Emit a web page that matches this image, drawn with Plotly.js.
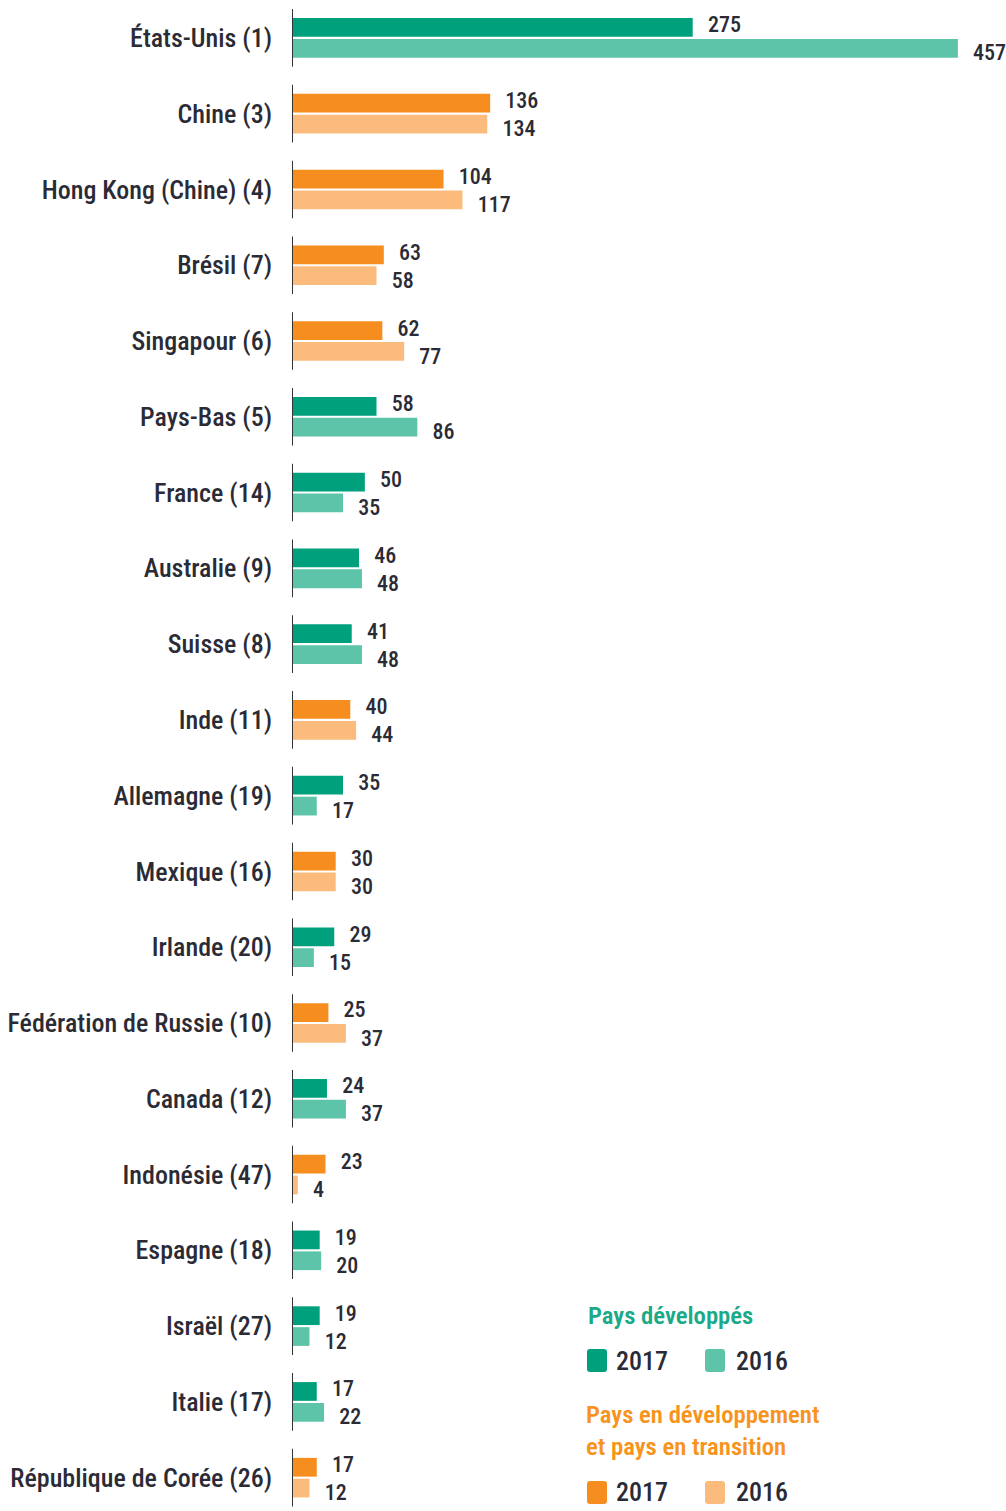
<!DOCTYPE html>
<html>
<head>
<meta charset="utf-8">
<script src="https://cdn.plot.ly/plotly-3.0.1.min.js"></script>
<style>html,body{margin:0;padding:0;background:#fff;}#chart{width:1006px;height:1511px;}
svg text{font-stretch:condensed !important;}
</style>
</head>
<body>
<div id="chart"></div>
<script>
const countries = ["États-Unis (1)","Chine (3)","Hong Kong (Chine) (4)","Brésil (7)","Singapour (6)","Pays-Bas (5)","France (14)","Australie (9)","Suisse (8)","Inde (11)","Allemagne (19)","Mexique (16)","Irlande (20)","Fédération de Russie (10)","Canada (12)","Indonésie (47)","Espagne (18)","Israël (27)","Italie (17)","République de Corée (26)"];
const developed = [true,false,false,false,false,true,true,true,true,false,true,false,true,false,true,false,true,true,true,false];
const v2017 = [275,136,104,63,62,58,50,46,41,40,35,30,29,25,24,23,19,19,17,17];
const v2016 = [457,134,117,58,77,86,35,48,48,44,17,30,15,37,37,4,20,12,22,12];
const legendDev = "Pays développés";
const legendDevg = "Pays en développement<br>et pays en transition";
const yearLabels = ["2017","2016"];

const C = {dev17:"#00a07c", dev16:"#5ec4a9", dvg17:"#f58d1f", dvg16:"#fbbb7c", gtitle:"#1aaa88", otitle:"#f7941d", text:"#2b2b36"};
const FONT = "Roboto, 'DejaVu Sans Condensed', sans-serif";

function barTrace(vals, name, cDev, cDvg){
  return {type:"bar", orientation:"h", y:countries, x:vals, name:name,
    marker:{color:developed.map(d=>d?cDev:cDvg)}, hoverinfo:"x+y"};
}
const pad = "\u00a0\u00a0\u00a0";
function labelTrace(vals, pos, yax){
  return {type:"scatter", mode:"text", y:countries, x:vals, yaxis:yax, text:vals.map(v=>pad+v),
    textposition:pos, cliponaxis:false, hoverinfo:"skip",
    textfont:{family:FONT, size:22, color:C.text, weight:500}};
}
const traces = [
  barTrace(v2017, "2017", C.dev17, C.dvg17),
  barTrace(v2016, "2016", C.dev16, C.dvg16),
  labelTrace(v2017, "top right", "y"),
  labelTrace(v2016, "bottom right", "y2")
];

const shapes = countries.map((c,i)=>({type:"line", xref:"x", yref:"y", x0:0, x1:0, y0:i-0.38, y1:i+0.38, line:{color:"#333", width:2}}));

// legend in paper coords; plot area = x 292..1006, y 0..1511
const px = x => (x-292)/714, py = y => 1-y/1511;
function sq(x,y,col){
  const w=20, h=23, r=3;
  const P = (a,b)=>px(a)+","+py(b);
  const d = "M"+P(x+r,y)+" L"+P(x+w-r,y)+" Q"+P(x+w,y)+" "+P(x+w,y+r)+
    " L"+P(x+w,y+h-r)+" Q"+P(x+w,y+h)+" "+P(x+w-r,y+h)+
    " L"+P(x+r,y+h)+" Q"+P(x,y+h)+" "+P(x,y+h-r)+
    " L"+P(x,y+r)+" Q"+P(x,y)+" "+P(x+r,y)+" Z";
  return {type:"path", xref:"paper", yref:"paper", path:d, fillcolor:col, line:{width:0}};
}
shapes.push(sq(587,1349,C.dev17), sq(705,1349,C.dev16), sq(587,1481,C.dvg17), sq(705,1481,C.dvg16));

function ann(x,y,text,size,color,weight){
  return {xref:"paper", yref:"paper", x:px(x), y:py(y), xanchor:"left", yanchor:"middle", align:"left",
    text:text, showarrow:false, font:{family:FONT, size:size, color:color, weight:weight}};
}
const anns = [
  ann(586,1315,legendDev,24.7,C.gtitle,600),
  ann(614,1361,yearLabels[0],26,C.text,500),
  ann(734,1361,yearLabels[1],26,C.text,500),
  ann(584,1430,legendDevg,24.7,C.otitle,600),
  ann(614,1492,yearLabels[0],26,C.text,500),
  ann(734,1492,yearLabels[1],26,C.text,500)
];

const yRange = [19.44,-0.5];
const shift = 0.08;
const layout = {
  width:1006, height:1511, margin:{l:292, r:0, t:0, b:0, pad:0},
  paper_bgcolor:"#fff", plot_bgcolor:"#fff",
  barmode:"group", bargap:0.45, bargroupgap:0.1, showlegend:false,
  xaxis:{range:[0,490], visible:false, showgrid:false, zeroline:false, fixedrange:true},
  yaxis:{type:"category", range:yRange, showgrid:false, zeroline:false, showline:false, ticks:"",
    ticklabelstandoff:19, tickfont:{family:FONT, size:26, color:C.text, weight:500}, automargin:false},
  yaxis2:{type:"category", overlaying:"y", categoryorder:"array", categoryarray:countries,
    range:[yRange[0]-shift, yRange[1]-shift], visible:false, showgrid:false, zeroline:false},
  shapes:shapes, annotations:anns,
  font:{family:FONT}
};
Plotly.newPlot("chart",traces,layout,{staticPlot:true});
</script>
</body>
</html>
